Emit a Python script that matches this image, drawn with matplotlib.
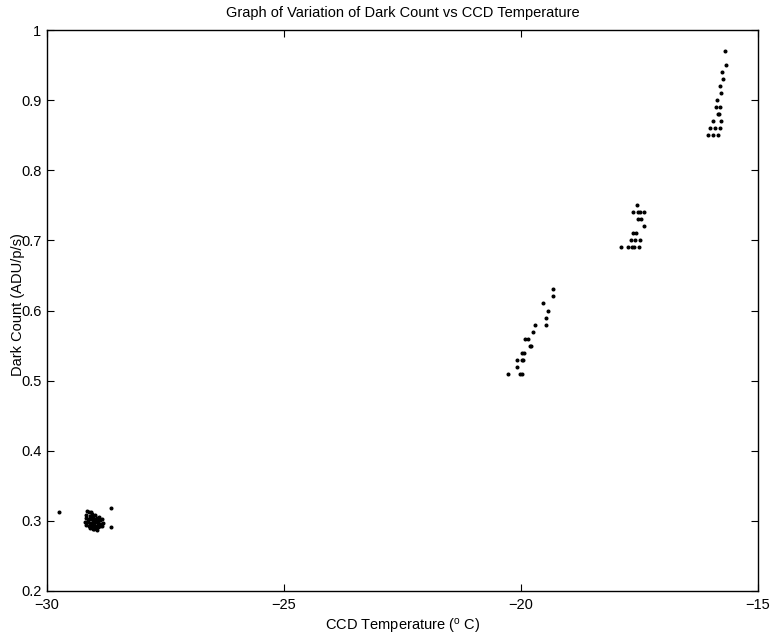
import matplotlib
matplotlib.use("Agg")
import matplotlib.pyplot as plt

plt.rcParams['font.family'] = ['Liberation Sans', 'DejaVu Sans']
plt.rcParams['mathtext.fontset'] = 'custom'
plt.rcParams['mathtext.rm'] = 'Liberation Sans'
plt.rcParams['mathtext.it'] = 'Liberation Sans'

# Cluster near -29 C
temp_a = [-29.755, -28.643, -28.643,
          -29.15, -29.12, -29.08, -29.05, -29.17, -29.10, -29.03, -28.98,
          -29.18, -29.13, -29.07, -29.01, -28.95, -28.90, -29.19, -29.14,
          -29.09, -29.04, -28.99, -28.94, -28.88, -28.84, -29.17, -29.12,
          -29.06, -29.01, -28.96, -28.91, -28.86, -28.81, -29.10, -29.04,
          -28.98, -28.93, -28.88, -28.83, -29.00, -28.95, -29.08, -28.92]
dark_a = [0.312, 0.318, 0.291,
          0.314, 0.312, 0.313, 0.310, 0.309, 0.307, 0.306, 0.308,
          0.304, 0.303, 0.302, 0.303, 0.304, 0.305, 0.299, 0.298,
          0.297, 0.299, 0.298, 0.300, 0.301, 0.302, 0.294, 0.293,
          0.292, 0.294, 0.293, 0.295, 0.296, 0.297, 0.290, 0.289,
          0.290, 0.291, 0.292, 0.293, 0.288, 0.287, 0.295, 0.297]

# Cluster near -20 C
temp_b = [-19.333, -19.326, -19.544, -19.431, -19.466, -19.705, -19.473,
          -19.748, -19.923, -19.846, -19.811, -19.783, -19.979, -19.937,
          -20.092, -19.986, -19.951, -20.092, -20.268, -20.015, -19.986]
dark_b = [0.63, 0.62, 0.61, 0.60, 0.59, 0.58, 0.58,
          0.57, 0.56, 0.56, 0.55, 0.55, 0.54, 0.54,
          0.53, 0.53, 0.53, 0.52, 0.51, 0.51, 0.51]

# Cluster near -17.5 C
temp_c = [-17.561, -17.631, -17.540, -17.497, -17.399, -17.532, -17.469,
          -17.399, -17.638, -17.568, -17.673, -17.589, -17.497,
          -17.898, -17.751, -17.659, -17.610, -17.511]
dark_c = [0.75, 0.74, 0.74, 0.74, 0.74, 0.73, 0.73,
          0.72, 0.71, 0.71, 0.70, 0.70, 0.70,
          0.69, 0.69, 0.69, 0.69, 0.69]

# Cluster near -15.8 C
temp_d = [-15.704, -15.669, -15.753, -15.732, -15.795, -15.781, -15.859,
          -15.894, -15.795, -15.845, -15.824, -15.957, -15.781,
          -16.013, -15.915, -15.795, -16.055, -15.957, -15.845]
dark_d = [0.97, 0.95, 0.94, 0.93, 0.92, 0.91, 0.90,
          0.89, 0.89, 0.88, 0.88, 0.87, 0.87,
          0.86, 0.86, 0.86, 0.85, 0.85, 0.85]

x_ticks = [-30, -25, -20, -15]
x_tick_labels = ['\u221230', '\u221225', '\u221220', '\u221215']
y_ticks = [0.2, 0.3, 0.4, 0.5, 0.6, 0.7, 0.8, 0.9, 1.0]
y_tick_labels = ['0.2', '0.3', '0.4', '0.5', '0.6', '0.7', '0.8', '0.9', '1']

fig = plt.figure(figsize=(7.70, 6.39), dpi=100)
ax = fig.add_axes([47/770, 1 - 591/639, 711/770, 561/639])

for t, d in [(temp_a, dark_a), (temp_b, dark_b), (temp_c, dark_c), (temp_d, dark_d)]:
    ax.plot(t, d, linestyle='none', marker='.', color='black', markersize=3.8)

ax.set_xlim(-30, -15)
ax.set_ylim(0.2, 1.0)
ax.set_xticks(x_ticks)
ax.set_xticklabels(x_tick_labels)
ax.set_yticks(y_ticks)
ax.set_yticklabels(y_tick_labels)
ax.tick_params(axis='both', direction='in', length=5, width=0.8, top=True, right=True,
               labelsize=10.5, colors='black')
ax.tick_params(axis='x', pad=5)
ax.tick_params(axis='y', pad=4)
for s in ax.spines.values():
    s.set_linewidth(1.0)
    s.set_color('black')

ax.set_title('Graph of Variation of Dark Count vs CCD Temperature', fontsize=10.5, pad=9)
ax.set_xlabel(r'CCD Temperature ($^{\mathrm{o}}$ C)', fontsize=10.5, labelpad=4)
ax.set_ylabel('Dark Count (ADU/p/s)', fontsize=10.5)
ax.yaxis.set_label_coords(-0.031, 0.51)

fig.savefig('out.png', dpi=100)
